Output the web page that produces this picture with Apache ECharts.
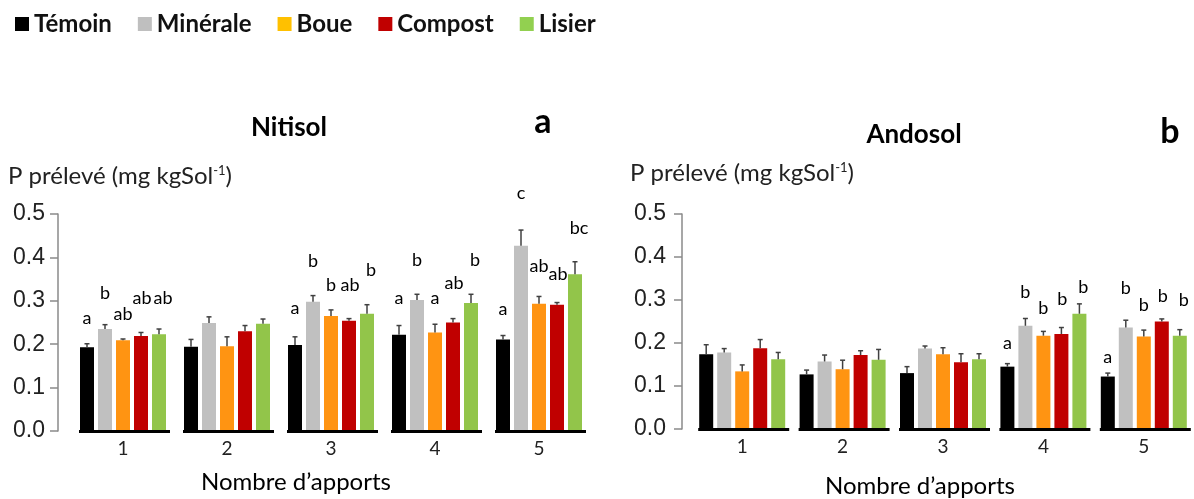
<!DOCTYPE html>
<html><head><meta charset="utf-8">
<script src="https://cdn.jsdelivr.net/npm/echarts@6/dist/echarts.min.js"></script>
<style>html,body{margin:0;padding:0;background:#fff}#c{width:1194px;height:499px}</style>
</head><body><div id="c"></div>
<script>
// ---------- DATA ----------
const categories = ['1', '2', '3', '4', '5'];
const seriesNames = ['Témoin', 'Minérale', 'Boue', 'Compost', 'Lisier'];

// Nitisol (a): mean and standard error (upper bar)
const nitTemoin    = [0.193, 0.194, 0.198, 0.222, 0.211];
const nitTemoinErr = [0.008, 0.017, 0.019, 0.021, 0.009];
const nitMinerale    = [0.235, 0.249, 0.298, 0.302, 0.427];
const nitMineraleErr = [0.010, 0.014, 0.014, 0.013, 0.036];
const nitBoue    = [0.209, 0.195, 0.265, 0.227, 0.293];
const nitBoueErr = [0.003, 0.022, 0.014, 0.019, 0.017];
const nitCompost    = [0.219, 0.230, 0.254, 0.250, 0.291];
const nitCompostErr = [0.008, 0.013, 0.005, 0.009, 0.005];
const nitLisier    = [0.223, 0.247, 0.270, 0.295, 0.361];
const nitLisierErr = [0.012, 0.011, 0.021, 0.020, 0.029];

// Nitisol significance letters and the value level where each sits
const nitLetTemoin   = ['a', '', 'a', 'a', 'a'];
const nitLetMinerale = ['b', '', 'b', 'b', 'c'];
const nitLetBoue     = ['ab', '', 'b', 'a', 'ab'];
const nitLetCompost  = ['ab', '', 'ab', 'ab', 'ab'];
const nitLetLisier   = ['ab', '', 'b', 'b', 'bc'];
const nitLetYTemoin   = [0.260, null, 0.283, 0.306, 0.281];
const nitLetYMinerale = [0.318, null, 0.391, 0.394, 0.548];
const nitLetYBoue     = [0.270, null, 0.337, 0.307, 0.380];
const nitLetYCompost  = [0.306, null, 0.337, 0.341, 0.362];
const nitLetYLisier   = [0.306, null, 0.370, 0.394, 0.468];

// Andosol (b)
const andTemoin    = [0.174, 0.127, 0.130, 0.145, 0.122];
const andTemoinErr = [0.022, 0.010, 0.015, 0.007, 0.008];
const andMinerale    = [0.178, 0.157, 0.187, 0.240, 0.236];
const andMineraleErr = [0.009, 0.015, 0.006, 0.017, 0.017];
const andBoue    = [0.134, 0.139, 0.174, 0.217, 0.215];
const andBoueErr = [0.015, 0.021, 0.015, 0.010, 0.015];
const andCompost    = [0.188, 0.172, 0.155, 0.221, 0.250];
const andCompostErr = [0.020, 0.010, 0.020, 0.015, 0.006];
const andLisier    = [0.162, 0.161, 0.162, 0.268, 0.217];
const andLisierErr = [0.016, 0.024, 0.013, 0.023, 0.014];

const andLetTemoin   = ['', '', '', 'a', 'a'];
const andLetMinerale = ['', '', '', 'b', 'b'];
const andLetBoue     = ['', '', '', 'b', 'b'];
const andLetCompost  = ['', '', '', 'b', 'b'];
const andLetLisier   = ['', '', '', 'b', 'b'];
const andLetYTemoin   = [null, null, null, 0.200, 0.167];
const andLetYMinerale = [null, null, null, 0.319, 0.328];
const andLetYBoue     = [null, null, null, 0.281, 0.288];
const andLetYCompost  = [null, null, null, 0.302, 0.309];
const andLetYLisier   = [null, null, null, 0.330, 0.300];

// ---------- STYLE ----------
const barColors = ['#000000', '#c0c0c0', '#ff9412', '#c00000', '#92c54a'];
const legendColors = ['#000000', '#bfbfbf', '#ffc000', '#c00000', '#92d050'];
const BAR_W = 14, PITCH = 18;
const sansCal = 'Lato';
const letterShift = [0, 0, 0, 1, 4];

const panels = [
  { means: [nitTemoin, nitMinerale, nitBoue, nitCompost, nitLisier],
    errs: [nitTemoinErr, nitMineraleErr, nitBoueErr, nitCompostErr, nitLisierErr],
    lets: [nitLetTemoin, nitLetMinerale, nitLetBoue, nitLetCompost, nitLetLisier],
    letY: [nitLetYTemoin, nitLetYMinerale, nitLetYBoue, nitLetYCompost, nitLetYLisier] },
  { means: [andTemoin, andMinerale, andBoue, andCompost, andLisier],
    errs: [andTemoinErr, andMineraleErr, andBoueErr, andCompostErr, andLisierErr],
    lets: [andLetTemoin, andLetMinerale, andLetBoue, andLetCompost, andLetLisier],
    letY: [andLetYTemoin, andLetYMinerale, andLetYBoue, andLetYCompost, andLetYLisier] }
];

const grids = [
  { left: 71, top: 214, width: 520, height: 217 },
  { left: 692, top: 214, width: 520, height: 215 }
];
const yOffsets = [13, 10];
const yMargins = [13, 16];

const xAxes = [], yAxes = [], series = [];
panels.forEach((p, g) => {
  xAxes.push({
    type: 'category', gridIndex: g, data: categories,
    axisLine: { show: false }, axisTick: { show: false },
    axisLabel: { margin: 8, fontSize: 19, color: '#222', fontFamily: sansCal }
  });
  yAxes.push({
    type: 'value', gridIndex: g, min: 0, max: 0.5, interval: 0.1,
    offset: yOffsets[g],
    axisLine: { show: true, lineStyle: { color: '#8a8a8a', width: 1.5 } },
    axisTick: { show: true, length: 8, lineStyle: { color: '#8a8a8a', width: 1.5 } },
    splitLine: { show: false },
    axisLabel: { margin: yMargins[g], fontSize: 23, color: '#222', fontFamily: 'Liberation Sans',
                 formatter: v => v.toFixed(1) }
  });
  seriesNames.forEach((name, k) => {
    series.push({
      type: 'bar', name: name, xAxisIndex: g, yAxisIndex: g,
      data: p.means[k], barWidth: BAR_W, barGap: ((PITCH - BAR_W) / BAR_W * 100) + '%',
      itemStyle: { color: barColors[k] }, silent: true, z: 2
    });
  });
  // error bars
  seriesNames.forEach((name, k) => {
    const dx = (k - 2) * PITCH;
    series.push({
      type: 'custom', xAxisIndex: g, yAxisIndex: g, silent: true, z: 3,
      data: p.means[k].map((m, i) => [i, m, p.errs[k][i]]),
      renderItem: (params, api) => {
        const i = api.value(0), m = api.value(1), e = api.value(2);
        const a = api.coord([i, m]), b = api.coord([i, m + e]);
        const x = a[0] + dx;
        return { type: 'group', children: [
          { type: 'line', shape: { x1: x, y1: a[1], x2: x, y2: b[1] }, style: { stroke: '#404040', lineWidth: 1.5 } },
          { type: 'line', shape: { x1: x - 2.5, y1: b[1], x2: x + 2.5, y2: b[1] }, style: { stroke: '#404040', lineWidth: 1.5 } }
        ] };
      }
    });
  });
  // baseline segments under each group
  series.push({
    type: 'custom', xAxisIndex: g, yAxisIndex: g, silent: true, z: 4,
    data: categories.map((c, i) => [i, 0]),
    renderItem: (params, api) => {
      const pt = api.coord([api.value(0), 0]);
      return { type: 'rect', shape: { x: pt[0] - 44, y: pt[1] - 1, width: 91, height: 3 }, style: { fill: '#000' } };
    }
  });
  // letters
  seriesNames.forEach((name, k) => {
    const dx = (k - 2) * PITCH + letterShift[k];
    const data = [];
    p.lets[k].forEach((l, i) => { if (l) data.push({ name: l, value: [i, p.letY[k][i]] }); });
    series.push({
      type: 'custom', xAxisIndex: g, yAxisIndex: g, silent: true, clip: false, z: 5,
      data: data,
      renderItem: (params, api) => {
        const pt = api.coord([api.value(0), api.value(1)]);
        return { type: 'text', x: pt[0] + dx, y: pt[1],
          style: { text: data[params.dataIndex].name, fill: '#000', font: '18px Lato',
                   textAlign: 'center', textVerticalAlign: 'middle' } };
      }
    });
  });
});

const yName = (x, y) => ({
  type: 'text', x: x, y: y,
  style: { text: '{n|P prélevé (mg kgSol}{s|-1}{n|)}', textVerticalAlign: 'middle',
    rich: { n: { fontSize: 24, fontFamily: sansCal, fill: '#222', color: '#222' },
            s: { fontSize: 13, fontFamily: sansCal, fill: '#222', color: '#222', verticalAlign: 'top', padding: [0, 0, 9, 0] } } }
});
const txt = (t, x, y, font, align) => ({
  type: 'text', x: x, y: y,
  style: { text: t, font: font, fill: '#000', textAlign: align || 'center', textVerticalAlign: 'middle' }
});

const option = {
  animation: false,
  backgroundColor: '#fff',
  legend: {
    left: 10, top: 7, itemWidth: 14, itemHeight: 14, itemGap: 26, icon: 'rect',
    selectedMode: false,
    textStyle: { fontSize: 24, fontWeight: 'bold', color: '#111', fontFamily: sansCal, padding: [0, 0, 0, 0] },
    data: seriesNames.map((n, k) => ({ name: n, itemStyle: { color: legendColors[k] } }))
  },
  grid: grids,
  xAxis: xAxes,
  yAxis: yAxes,
  series: series,
  graphic: [
    txt('Nitisol', 289, 128, 'bold 26px Lato'),
    txt('a', 543, 122, 'bold 34px Lato'),
    txt('Andosol', 914, 135, 'bold 26px Lato'),
    txt('b', 1170, 132, 'bold 34px Lato'),
    yName(8, 176),
    yName(630, 173),
    txt('Nombre d\u2019apports', 296, 482, '24px Lato'),
    txt('Nombre d\u2019apports', 920, 486, '24px Lato')
  ]
};
echarts.init(document.getElementById('c')).setOption(option);
</script></body></html>
